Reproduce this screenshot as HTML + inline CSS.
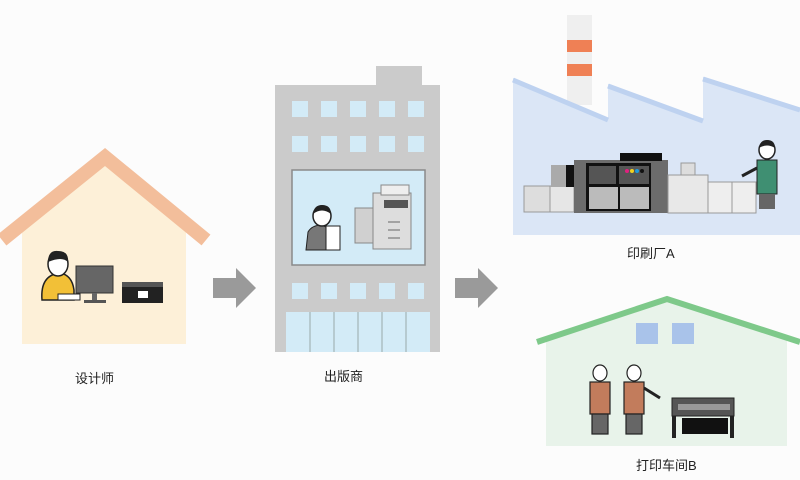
<!DOCTYPE html>
<html><head><meta charset="utf-8"><style>
html,body{margin:0;padding:0;background:#fff;}
svg{display:block}
text{font-family:"Liberation Sans","Noto Sans CJK SC",sans-serif;font-size:13px;fill:#222}
</style></head><body>
<svg width="800" height="480" viewBox="0 0 800 480" xmlns="http://www.w3.org/2000/svg">
<rect width="800" height="480" fill="#fcfcfc"/>
<!-- House 1 -->
<polygon points="22,225 105,160 186,225 186,344 22,344" fill="#fdf0d8"/>
<polyline points="2,240 105,157 206,240" fill="none" stroke="#f3be9b" stroke-width="14"/>
<!-- person -->
<path d="M42,300 Q40,275 60,273 Q72,275 74,290 L74,300 Z" fill="#f2c037" stroke="#222" stroke-width="1.5"/>
<ellipse cx="58" cy="264" rx="10" ry="12" fill="#fff" stroke="#222" stroke-width="1.5"/>
<path d="M48,262 Q48,250 58,251 Q69,251 68,262 Q62,256 48,262Z" fill="#222"/>
<rect x="58" y="294" width="22" height="6" fill="#fff" stroke="#222"/>
<rect x="76" y="266" width="37" height="27" fill="#666" stroke="#333"/>
<rect x="92" y="293" width="5" height="8" fill="#666"/>
<rect x="84" y="300" width="22" height="3" fill="#555"/>
<rect x="122" y="282" width="41" height="21" fill="#222"/>
<rect x="122" y="282" width="41" height="5" fill="#555"/>
<rect x="138" y="291" width="10" height="7" fill="#fff"/>
<text x="75" y="383">设计师</text>
<!-- arrows -->
<polygon points="213,278 236,278 236,268 256,288 236,308 236,298 213,298" fill="#9a9a9a"/>
<polygon points="455,278 478,278 478,268 498,288 478,308 478,298 455,298" fill="#9a9a9a"/>
<!-- Building -->
<rect x="376" y="66" width="46" height="22" fill="#cbcbcb"/>
<rect x="275" y="85" width="165" height="267" fill="#cbcbcb"/>
<g fill="#d3ebf7">
<rect x="292" y="101" width="16" height="16"/><rect x="321" y="101" width="16" height="16"/><rect x="350" y="101" width="16" height="16"/><rect x="379" y="101" width="16" height="16"/><rect x="408" y="101" width="16" height="16"/>
<rect x="292" y="136" width="16" height="16"/><rect x="321" y="136" width="16" height="16"/><rect x="350" y="136" width="16" height="16"/><rect x="379" y="136" width="16" height="16"/><rect x="408" y="136" width="16" height="16"/>
<rect x="292" y="283" width="16" height="16"/><rect x="321" y="283" width="16" height="16"/><rect x="350" y="283" width="16" height="16"/><rect x="379" y="283" width="16" height="16"/><rect x="408" y="283" width="16" height="16"/>
<rect x="286" y="312" width="144" height="40"/>
</g>
<g stroke="#9aa" stroke-width="1"><line x1="310" y1="312" x2="310" y2="352"/><line x1="334" y1="312" x2="334" y2="352"/><line x1="358" y1="312" x2="358" y2="352"/><line x1="382" y1="312" x2="382" y2="352"/><line x1="406" y1="312" x2="406" y2="352"/></g>
<rect x="292" y="170" width="133" height="95" fill="#d3ebf7" stroke="#8a8a8a" stroke-width="1.5"/>
<path d="M306,250 L308,232 Q312,225 322,225 L332,230 L332,250 Z" fill="#777" stroke="#222"/>
<ellipse cx="322" cy="216" rx="9" ry="10" fill="#fff" stroke="#222" stroke-width="1.5"/>
<path d="M313,214 Q314,205 322,205 Q331,205 331,214 Q322,207 313,214Z" fill="#222"/>
<rect x="326" y="226" width="14" height="24" fill="#fff" stroke="#222"/>
<rect x="355" y="208" width="18" height="35" fill="#d0d0d0" stroke="#888"/>
<rect x="373" y="193" width="38" height="56" fill="#ddd" stroke="#888"/>
<rect x="381" y="185" width="28" height="10" fill="#eee" stroke="#888"/>
<rect x="384" y="200" width="24" height="8" fill="#555"/>
<g stroke="#666"><line x1="388" y1="222" x2="400" y2="222"/><line x1="388" y1="230" x2="400" y2="230"/><line x1="388" y1="238" x2="400" y2="238"/></g>
<text x="324" y="381">出版商</text>
<!-- Factory -->
<rect x="567" y="15" width="25" height="90" fill="#efefef"/>
<rect x="567" y="40" width="25" height="12" fill="#ef8055"/>
<rect x="567" y="64" width="25" height="12" fill="#ef8055"/>
<polygon points="513,78 608,118 608,84 703,119 703,77 800,108 800,235 513,235" fill="#dbe6f6"/>
<polyline points="513,80 608,120" fill="none" stroke="#bed2f0" stroke-width="5"/>
<polyline points="608,86 703,121" fill="none" stroke="#bed2f0" stroke-width="5"/>
<polyline points="703,79 800,110" fill="none" stroke="#bed2f0" stroke-width="5"/>
<rect x="524" y="186" width="26" height="26" fill="#ddd" stroke="#999"/>
<rect x="550" y="186" width="24" height="26" fill="#e6e6e6" stroke="#999"/>
<rect x="551" y="165" width="22" height="22" fill="#aaa"/>
<rect x="566" y="165" width="8" height="22" fill="#111"/>
<rect x="574" y="160" width="94" height="53" fill="#6c6c6c"/>
<rect x="620" y="153" width="42" height="8" fill="#111"/>
<rect x="586" y="163" width="65" height="48" fill="#111"/>
<rect x="589" y="166" width="27" height="18" fill="#555"/>
<rect x="619" y="166" width="30" height="18" fill="#555"/>
<rect x="589" y="187" width="29" height="22" fill="#bbb"/><rect x="620" y="187" width="29" height="22" fill="#bbb"/>
<circle cx="627" cy="171" r="2" fill="#e0207f"/><circle cx="632" cy="171" r="2" fill="#f3d21e"/><circle cx="637" cy="171" r="2" fill="#1f9bdc"/><circle cx="642" cy="171" r="2" fill="#111"/>
<rect x="668" y="175" width="40" height="38" fill="#e8e8e8" stroke="#999"/>
<rect x="681" y="163" width="14" height="12" fill="#ddd" stroke="#999"/>
<rect x="708" y="182" width="48" height="31" fill="#eee" stroke="#999"/>
<line x1="732" y1="182" x2="732" y2="213" stroke="#999"/>
<ellipse cx="767" cy="150" rx="8" ry="9" fill="#fff" stroke="#222" stroke-width="1.5"/>
<path d="M759,148 Q760,140 767,140 Q775,140 775,148 Q767,143 759,148Z" fill="#222"/>
<rect x="757" y="160" width="20" height="34" fill="#3f8f72" stroke="#222"/>
<rect x="759" y="194" width="16" height="15" fill="#666"/>
<path d="M757,168 L742,176" stroke="#222" stroke-width="3"/>
<text x="627" y="258">印刷厂A</text>
<!-- Workshop -->
<polygon points="546,337 667,300 787,337 787,446 546,446" fill="#e8f3ea"/>
<polyline points="537,342 667,299 800,342" fill="none" stroke="#7ec98a" stroke-width="6"/>
<rect x="636" y="323" width="22" height="21" fill="#a9c3ea"/>
<rect x="672" y="323" width="22" height="21" fill="#a9c3ea"/>
<g stroke="#222" stroke-width="1.2">
<ellipse cx="600" cy="373" rx="7" ry="8" fill="#fff"/>
<rect x="590" y="382" width="20" height="32" fill="#c27c5c"/>
<rect x="592" y="414" width="16" height="20" fill="#666"/>
<ellipse cx="634" cy="373" rx="7" ry="8" fill="#fff"/>
<rect x="624" y="382" width="20" height="32" fill="#c27c5c"/>
<rect x="626" y="414" width="16" height="20" fill="#666"/>
<path d="M644,388 L660,398" stroke-width="3"/>
</g>
<rect x="672" y="398" width="62" height="18" fill="#555" stroke="#222"/>
<rect x="678" y="404" width="52" height="6" fill="#999"/>
<rect x="682" y="418" width="46" height="16" fill="#111"/>
<rect x="672" y="416" width="4" height="22" fill="#222"/><rect x="730" y="416" width="4" height="22" fill="#222"/>
<text x="636" y="470">打印车间B</text>
</svg>
</body></html>
